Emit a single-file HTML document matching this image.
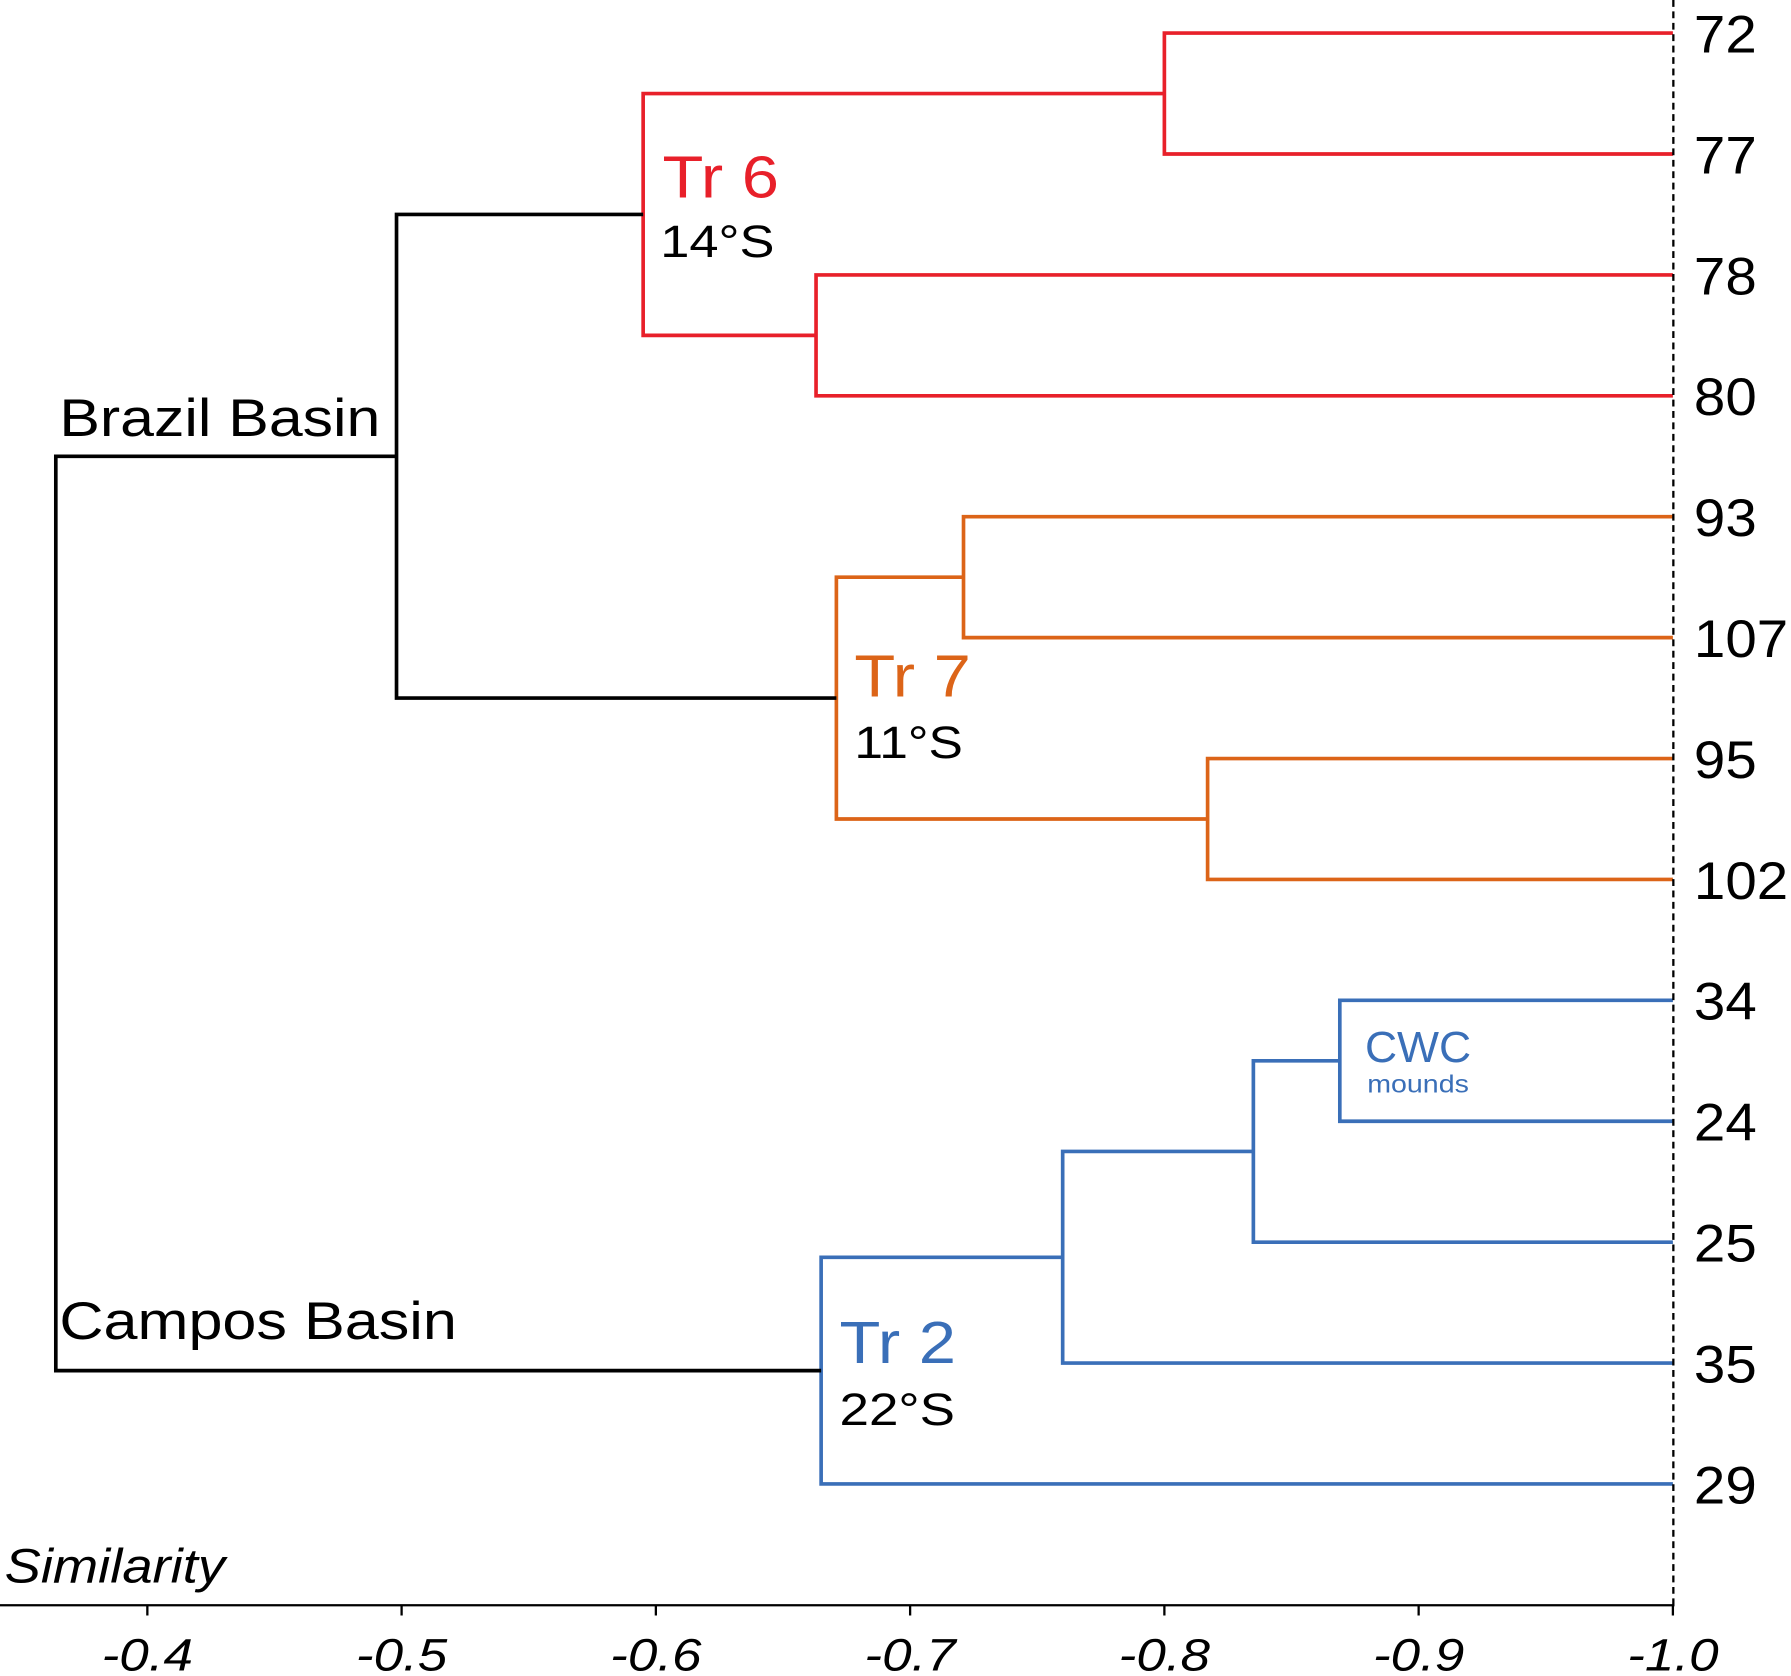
<!DOCTYPE html>
<html><head><meta charset="utf-8"><style>
html,body{margin:0;padding:0;background:#fff;}
svg{display:block;font-family:"Liberation Sans",Arial,sans-serif;}
</style></head><body>
<svg id="chart" width="1791" height="1676" viewBox="0 0 1568 1468" preserveAspectRatio="none" xmlns="http://www.w3.org/2000/svg">
<g id="lines"></g>
<g id="axis"></g>
<g id="labels"></g>
<text x="580" y="173" font-size="52" fill="#e8202a" textLength="102" lengthAdjust="spacingAndGlyphs">Tr 6</text>
<text x="578" y="225" font-size="40" fill="#000" textLength="100" lengthAdjust="spacingAndGlyphs">14°S</text>
<text x="52" y="382" font-size="46" fill="#000" textLength="281" lengthAdjust="spacingAndGlyphs">Brazil Basin</text>
<text x="748" y="610" font-size="52" fill="#dc6418" textLength="102" lengthAdjust="spacingAndGlyphs">Tr 7</text>
<text x="748" y="664" font-size="40" fill="#000" textLength="95" lengthAdjust="spacingAndGlyphs">11°S</text>
<text x="52" y="1173" font-size="46" fill="#000" textLength="348" lengthAdjust="spacingAndGlyphs">Campos Basin</text>
<text x="735" y="1194" font-size="52" fill="#3a6fb8" textLength="102" lengthAdjust="spacingAndGlyphs">Tr 2</text>
<text x="735" y="1248" font-size="40" fill="#000" textLength="101" lengthAdjust="spacingAndGlyphs">22°S</text>
<text x="1195" y="930" font-size="38" fill="#3a6fb8" textLength="93" lengthAdjust="spacingAndGlyphs">CWC</text>
<text x="1197" y="957" font-size="22" fill="#3a6fb8" textLength="89" lengthAdjust="spacingAndGlyphs">mounds</text>
<text x="4" y="1386" font-size="42" font-style="italic" fill="#000" textLength="193" lengthAdjust="spacingAndGlyphs">Similarity</text>
</svg>
<script>
const leaves = ["72","77","78","80","93","107","95","102","34","24","25","35","29"];
const mergeLeft =  [0, 2, 13, 4, 6, 16, 15, 8, 20, 21, 22, 19];
const mergeRight = [1, 3, 14, 5, 7, 17, 18, 9, 10, 11, 12, 23];
const mergeSim = [-0.80, -0.663, -0.595, -0.721, -0.817, -0.671, -0.498, -0.869, -0.835, -0.760, -0.665, -0.364];
const mergeColor = ["#e8202a","#e8202a","#e8202a","#dc6418","#dc6418","#dc6418","#000","#3a6fb8","#3a6fb8","#3a6fb8","#3a6fb8","#000"];
const ticks = [-0.4,-0.5,-0.6,-0.7,-0.8,-0.9,-1.0];
const tickLabels = ["-0.4","-0.5","-0.6","-0.7","-0.8","-0.9","-1.0"];

const NS="http://www.w3.org/2000/svg";
const xS = v => 129 + (-v - 0.4) * 2226;
const yS = i => 29 + i * 105.9;
function mk(tag, attrs, parent){const e=document.createElementNS(NS,tag);for(const k in attrs)e.setAttribute(k,attrs[k]);parent.appendChild(e);return e;}
const nodeX=[], nodeY=[];
leaves.forEach((l,i)=>{nodeX[i]=xS(-1.0);nodeY[i]=yS(i);});
const gL=document.getElementById('lines');
for(let m=0;m<mergeSim.length;m++){
  const a=mergeLeft[m], b=mergeRight[m], id=leaves.length+m;
  const x=xS(mergeSim[m]);
  nodeX[id]=x; nodeY[id]=(nodeY[a]+nodeY[b])/2;
  const c=mergeColor[m];
  const p=mk('path',{d:`M${nodeX[a]},${nodeY[a]}H${x}V${nodeY[b]}H${nodeX[b]}`,fill:'none',stroke:c,'stroke-width':3.2},gL);
  
  
}
const gA=document.getElementById('axis');
const ax=mk('line',{x1:0,y1:1406,x2:1466,y2:1406,stroke:'#000','stroke-width':2},gA);


const dl=mk('line',{x1:1465,y1:0,x2:1465,y2:1406,stroke:'#000','stroke-width':2,'stroke-dasharray':'6,4'},gA);


ticks.forEach((t,i)=>{
  const x=xS(t);
  const tk=mk('line',{x1:x,y1:1406,x2:x,y2:1415,stroke:'#000','stroke-width':2},gA);
  
  
  const tx=mk('text',{x:x,y:1463,'font-size':40,'font-style':'italic','text-anchor':'middle',textLength:80,lengthAdjust:'spacingAndGlyphs'},gA);
  tx.textContent=tickLabels[i];
  
  
});
const gT=document.getElementById('labels');
leaves.forEach((l,i)=>{
  const t=mk('text',{x:1483,y:yS(i)+17,'font-size':46,textLength:l.length*27.5,lengthAdjust:'spacingAndGlyphs'},gT);
  t.textContent=l;
  
  
});
</script>
</body></html>
